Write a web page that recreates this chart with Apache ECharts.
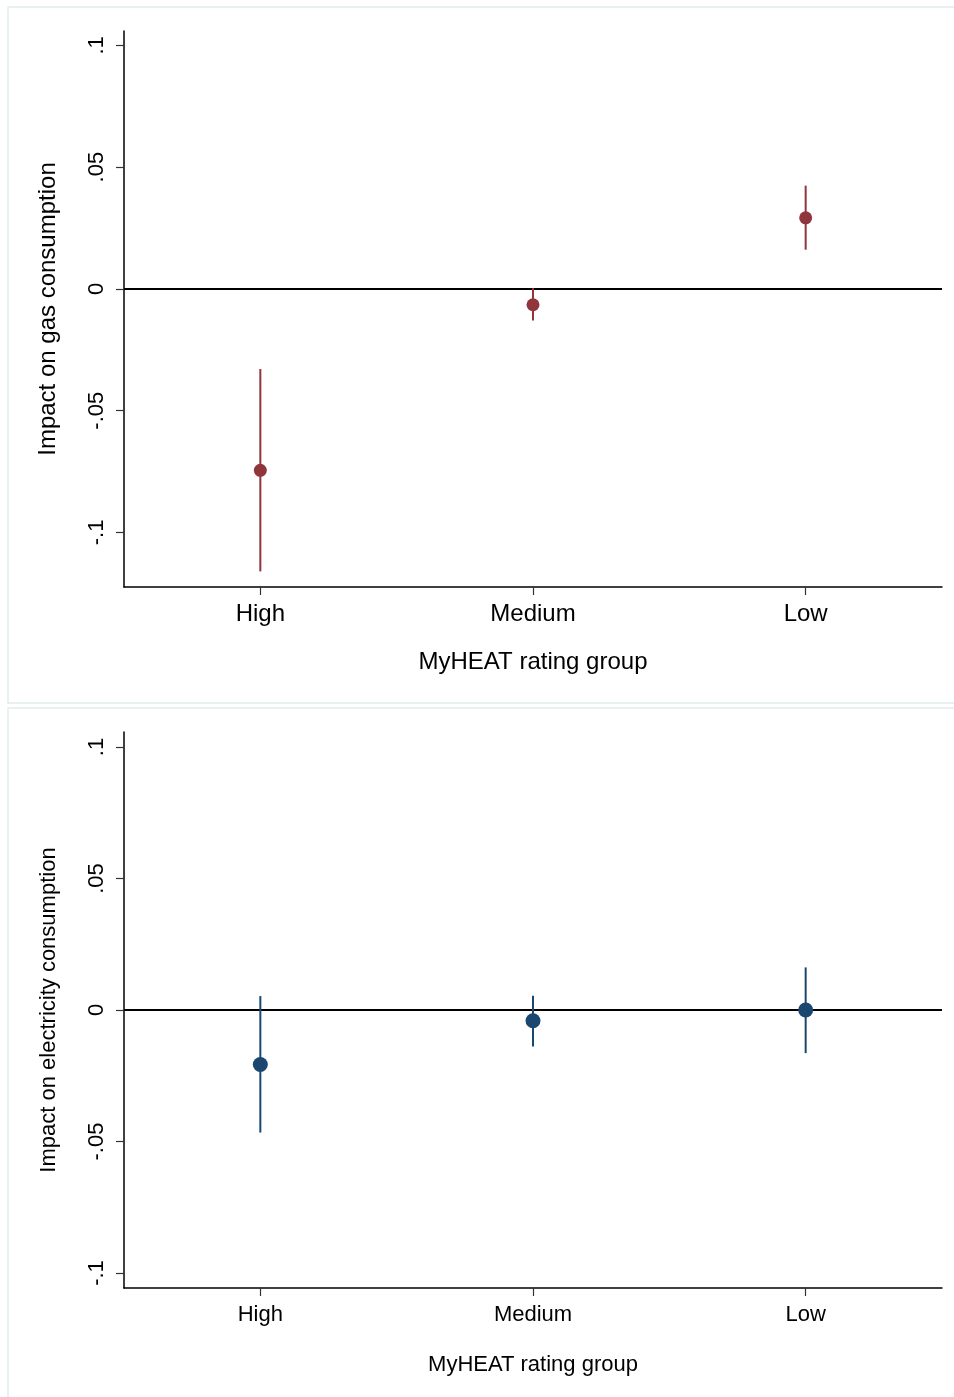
<!DOCTYPE html>
<html>
<head>
<meta charset="utf-8">
<script src="https://cdn.jsdelivr.net/npm/echarts@6/dist/echarts.min.js"></script>
<style>
html,body{margin:0;padding:0;background:#fff;}
#c{width:954px;height:1397px;}
</style>
</head>
<body>
<div id="c"></div>
<script>
const categories = ['High', 'Medium', 'Low'];
const gasEst = [-0.0745, -0.0065, 0.0292];
const gasLo = [-0.116, -0.013, 0.0161];
const gasHi = [-0.0329, 0.0004, 0.0424];
const elecEst = [-0.0207, -0.0041, 0.0];
const elecLo = [-0.0466, -0.0139, -0.0164];
const elecHi = [0.0053, 0.0054, 0.0162];
const yTicks = [-0.1, -0.05, 0, 0.05, 0.1];
const yTickLabels = ['-.1', '-.05', '0', '.05', '.1'];
const gasTitle = 'Impact on gas consumption';
const elecTitle = 'Impact on electricity consumption';
const xTitle = 'MyHEAT rating group';

const FONT = '"Liberation Sans", Arial, Helvetica, sans-serif';
const RED = '#90353b';
const NAVY = '#1a476f';

function fmt(v) {
  for (let i = 0; i < yTicks.length; i++) {
    if (Math.abs(v - yTicks[i]) < 1e-9) return yTickLabels[i];
  }
  return '';
}

function xAxis(gridIndex, fs, margin, nameGap) {
  return {
    type: 'category', gridIndex, data: categories, boundaryGap: true,
    name: xTitle, nameLocation: 'middle', nameGap,
    nameTextStyle: { fontFamily: FONT, fontSize: fs, color: '#000' },
    axisLine: { show: true, onZero: false, lineStyle: { color: '#000', width: 1.5 } },
    axisTick: { show: true, alignWithLabel: true, length: 8, lineStyle: { color: '#333', width: 1.2 } },
    axisLabel: { fontFamily: FONT, fontSize: fs, color: '#000', margin },
    splitLine: { show: false }
  };
}

function yAxis(gridIndex, min, max, title, fs, nameGap) {
  return {
    type: 'value', gridIndex, min, max,
    name: title, nameLocation: 'middle', nameGap,
    nameTextStyle: { fontFamily: FONT, fontSize: fs, color: '#000' },
    axisLine: { show: true, onZero: false, lineStyle: { color: '#000', width: 1.5 } },
    axisTick: { show: true, length: 8, customValues: yTicks, lineStyle: { color: '#333', width: 1.2 } },
    axisLabel: { fontFamily: FONT, fontSize: 22, color: '#000', rotate: 90, margin: 16,
      customValues: yTicks, formatter: fmt },
    splitLine: { show: false }
  };
}

function errSeries(idx, lo, hi, color) {
  return {
    type: 'custom', xAxisIndex: idx, yAxisIndex: idx,
    data: categories.map((c, i) => [i, lo[i], hi[i]]),
    encode: { x: 0, y: [1, 2] },
    renderItem: function (params, api) {
      const x = api.value(0);
      const p1 = api.coord([x, api.value(1)]);
      const p2 = api.coord([x, api.value(2)]);
      return { type: 'line', shape: { x1: p1[0], y1: p1[1], x2: p2[0], y2: p2[1] },
        style: { stroke: color, lineWidth: 2 } };
    },
    z: 3, silent: true
  };
}

function pointSeries(idx, est, color, size) {
  return {
    type: 'scatter', xAxisIndex: idx, yAxisIndex: idx,
    data: est, symbol: 'circle', symbolSize: size,
    itemStyle: { color: color, opacity: 1 },
    z: 4, silent: true,
    markLine: {
      silent: true, symbol: ['none', 'none'], label: { show: false },
      lineStyle: { color: '#000', width: 2, type: 'solid' },
      data: [{ yAxis: 0 }], z: 2
    }
  };
}

const chart = echarts.init(document.getElementById('c'), null, { renderer: 'canvas' });
chart.setOption({
  animation: false,
  backgroundColor: '#fff',
  graphic: [
    { type: 'rect', shape: { x: 8, y: 7, width: 950, height: 696 },
      style: { fill: '#fff', stroke: '#e2ebee', lineWidth: 1.5 }, z: -10 },
    { type: 'rect', shape: { x: 8, y: 708, width: 950, height: 692 },
      style: { fill: '#fff', stroke: '#e2ebee', lineWidth: 1.5 }, z: -10 }
  ],
  grid: [
    { left: 124, right: 12, top: 31, height: 556 },
    { left: 124, right: 12, top: 732, height: 556 }
  ],
  xAxis: [xAxis(0, 24, 15, 63), xAxis(1, 22, 16, 66)],
  yAxis: [
    yAxis(0, -0.1224, 0.1059, gasTitle, 24, 64),
    yAxis(1, -0.1057, 0.1057, elecTitle, 22, 64)
  ],
  series: [
    errSeries(0, gasLo, gasHi, RED),
    pointSeries(0, gasEst, RED, 13),
    errSeries(1, elecLo, elecHi, NAVY),
    pointSeries(1, elecEst, NAVY, 15)
  ]
});
</script>
</body>
</html>
